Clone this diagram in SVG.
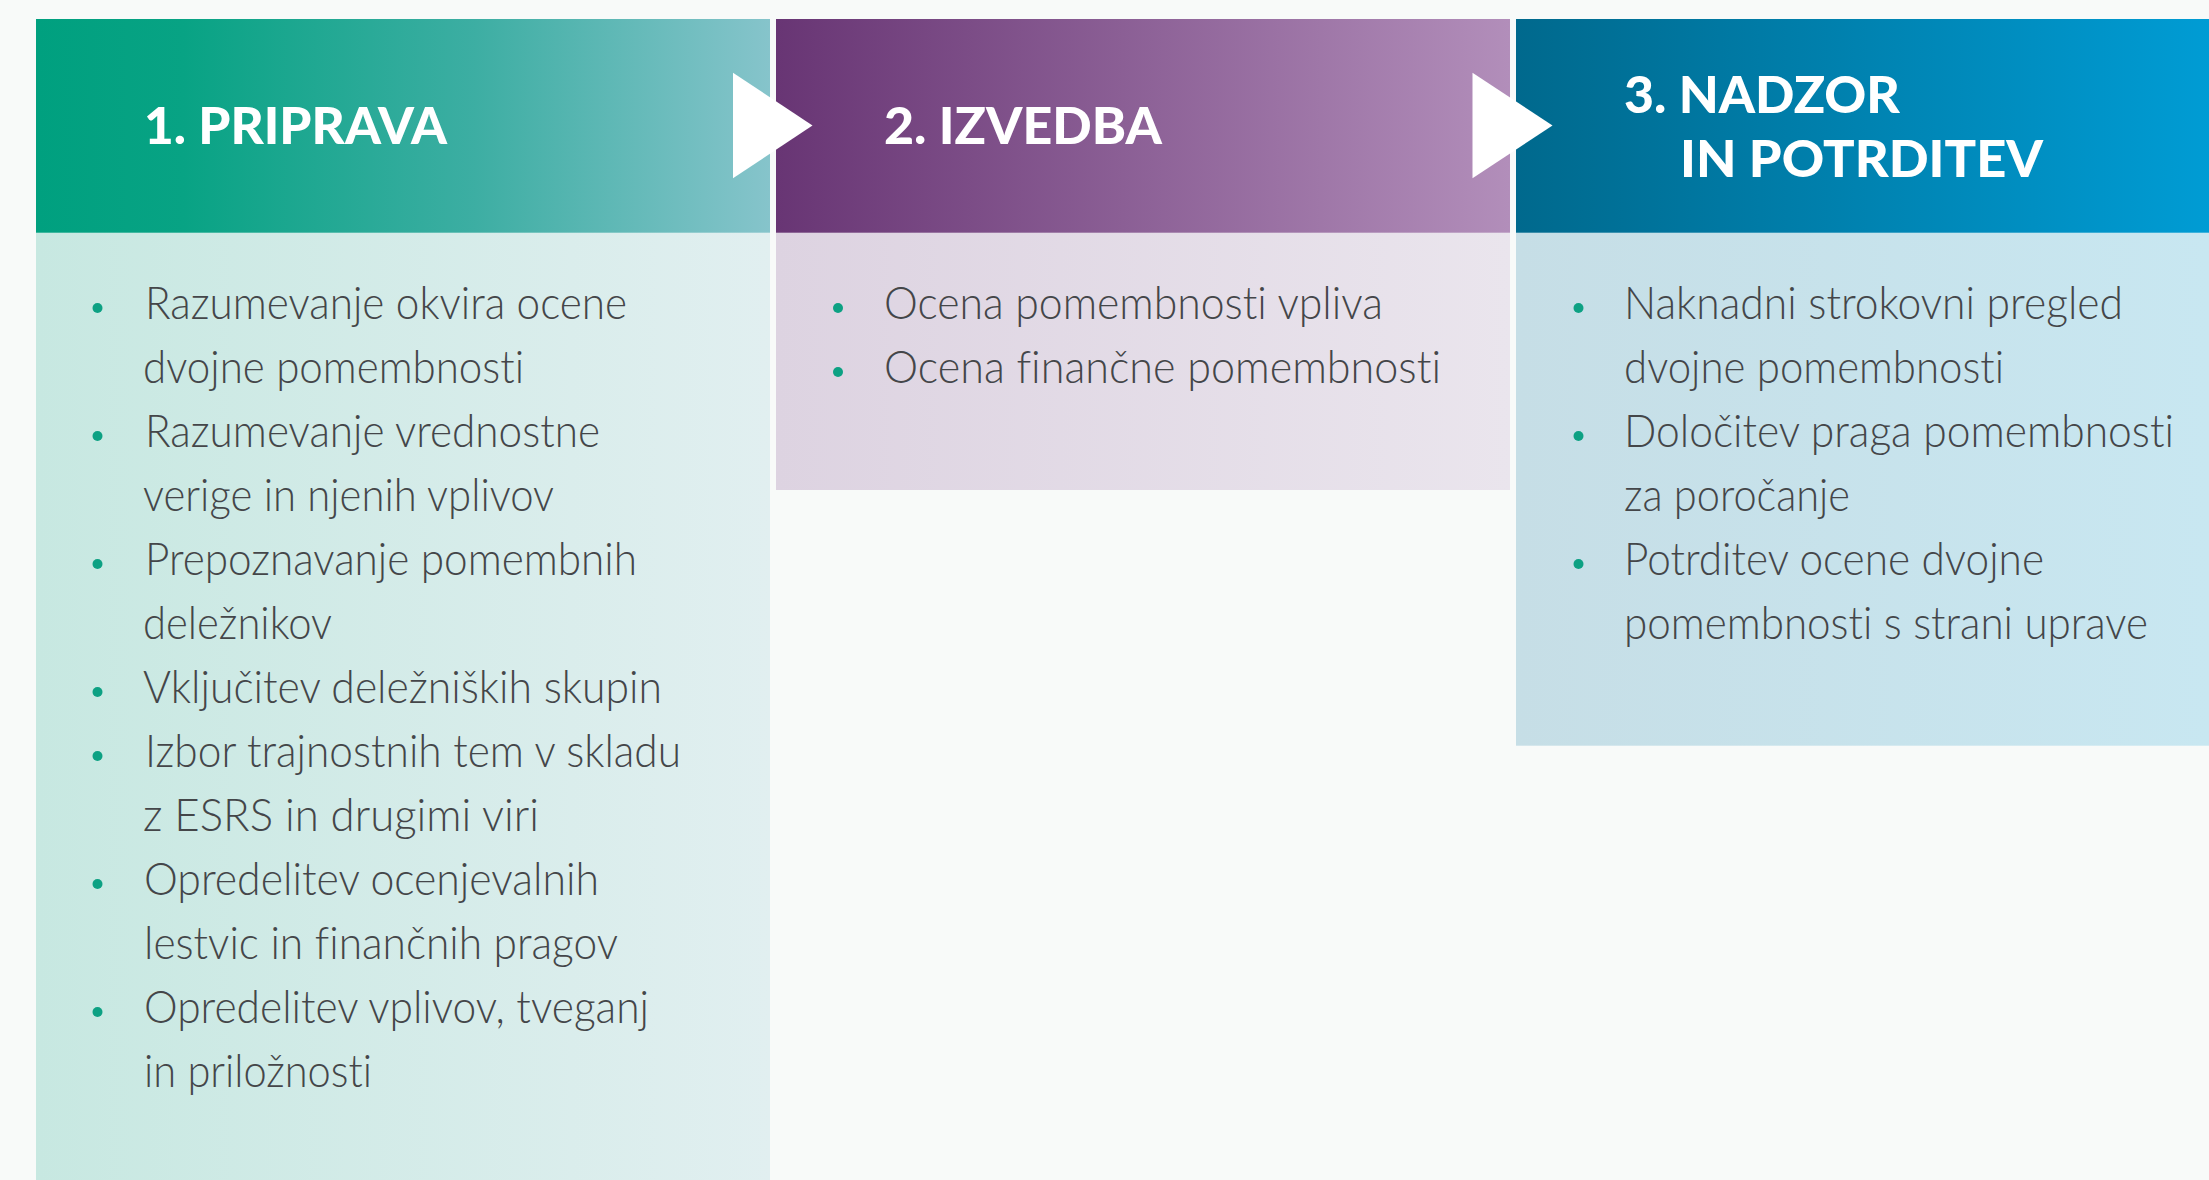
<svg xmlns="http://www.w3.org/2000/svg" width="2209" height="1180" viewBox="0 0 2209 1180">
<defs>
<linearGradient id="h1" x1="0" y1="0" x2="1" y2="0">
<stop offset="0" stop-color="#00a07f"/><stop offset="0.2" stop-color="#08a384"/><stop offset="0.6" stop-color="#3daea3"/><stop offset="1" stop-color="#86c4cb"/>
</linearGradient>
<linearGradient id="h2" x1="0" y1="0" x2="1" y2="0">
<stop offset="0" stop-color="#683574"/><stop offset="1" stop-color="#b28eba"/>
</linearGradient>
<linearGradient id="h3" x1="0" y1="0" x2="1" y2="0">
<stop offset="0" stop-color="#00698d"/><stop offset="1" stop-color="#009cd4"/>
</linearGradient>
<linearGradient id="b1" x1="0" y1="0" x2="1" y2="0">
<stop offset="0" stop-color="#c7e8e1"/><stop offset="1" stop-color="#e1eff0"/>
</linearGradient>
<linearGradient id="b2" x1="0" y1="0" x2="1" y2="0">
<stop offset="0" stop-color="#ddd3e1"/><stop offset="1" stop-color="#eae5ed"/>
</linearGradient>
<linearGradient id="b3" x1="0" y1="0" x2="1" y2="0">
<stop offset="0" stop-color="#c6dee6"/><stop offset="1" stop-color="#c8e7f1"/>
</linearGradient>
</defs>
<style>
.hd{font-family:Lato,"Liberation Sans",sans-serif;font-weight:900;font-size:52px;fill:#ffffff}
.tx{font-family:Lato,"Liberation Sans",sans-serif;font-weight:300;font-size:46px;fill:#444649;font-variant-ligatures:none}
.bl{fill:#0da183}
.arrow{fill:#ffffff}
</style>
<rect x="0" y="0" width="2209" height="1180" fill="#f8faf9"/>

<g id="node-priprava">
<rect x="36" y="19" width="734" height="214" fill="url(#h1)"/>
<rect x="36" y="232.7" width="734" height="948" fill="url(#b1)"/>
<text class="hd" x="144" y="144" textLength="303" lengthAdjust="spacingAndGlyphs">1. PRIPRAVA</text>
<g>
<circle class="bl" cx="97.5" cy="308" r="5"/>
<circle class="bl" cx="97.5" cy="436" r="5"/>
<circle class="bl" cx="97.5" cy="564" r="5"/>
<circle class="bl" cx="97.5" cy="692" r="5"/>
<circle class="bl" cx="97.5" cy="756" r="5"/>
<circle class="bl" cx="97.5" cy="884" r="5"/>
<circle class="bl" cx="97.5" cy="1012" r="5"/>
</g>
<text class="tx" x="145" y="319" textLength="482" lengthAdjust="spacingAndGlyphs">Razumevanje okvira ocene</text>
<text class="tx" x="143" y="383" textLength="381" lengthAdjust="spacingAndGlyphs">dvojne pomembnosti</text>
<text class="tx" x="145" y="447" textLength="455" lengthAdjust="spacingAndGlyphs">Razumevanje vrednostne</text>
<text class="tx" x="143" y="511" textLength="411" lengthAdjust="spacingAndGlyphs">verige in njenih vplivov</text>
<text class="tx" x="145" y="575" textLength="492" lengthAdjust="spacingAndGlyphs">Prepoznavanje pomembnih</text>
<text class="tx" x="143" y="639" textLength="189" lengthAdjust="spacingAndGlyphs">deležnikov</text>
<text class="tx" x="143" y="703" textLength="519" lengthAdjust="spacingAndGlyphs">Vključitev deležniških skupin</text>
<text class="tx" x="145" y="767" textLength="536" lengthAdjust="spacingAndGlyphs">Izbor trajnostnih tem v skladu</text>
<text class="tx" x="143" y="831" textLength="396" lengthAdjust="spacingAndGlyphs">z ESRS in drugimi viri</text>
<text class="tx" x="144" y="895" textLength="455" lengthAdjust="spacingAndGlyphs">Opredelitev ocenjevalnih</text>
<text class="tx" x="144" y="959" textLength="474" lengthAdjust="spacingAndGlyphs">lestvic in finančnih pragov</text>
<text class="tx" x="144" y="1023" textLength="505" lengthAdjust="spacingAndGlyphs">Opredelitev vplivov, tveganj</text>
<text class="tx" x="144" y="1087" textLength="228" lengthAdjust="spacingAndGlyphs">in priložnosti</text>
</g>

<g id="node-izvedba">
<rect x="776" y="19" width="734" height="214" fill="url(#h2)"/>
<rect x="776" y="232.7" width="734" height="257.3" fill="url(#b2)"/>
<text class="hd" x="884" y="144" textLength="278" lengthAdjust="spacingAndGlyphs">2. IZVEDBA</text>
<circle class="bl" cx="838" cy="308" r="5"/>
<circle class="bl" cx="838" cy="372" r="5"/>
<text class="tx" x="884" y="319" textLength="499" lengthAdjust="spacingAndGlyphs">Ocena pomembnosti vpliva</text>
<text class="tx" x="884" y="383" textLength="557" lengthAdjust="spacingAndGlyphs">Ocena finančne pomembnosti</text>
</g>

<g id="node-nadzor">
<rect x="1516" y="19" width="693" height="214" fill="url(#h3)"/>
<rect x="1516" y="232.7" width="693" height="513" fill="url(#b3)"/>
<text class="hd" x="1624" y="113" textLength="276" lengthAdjust="spacingAndGlyphs">3. NADZOR</text>
<text class="hd" x="1680" y="177" textLength="363" lengthAdjust="spacingAndGlyphs">IN POTRDITEV</text>
<circle class="bl" cx="1578.5" cy="308" r="5"/>
<circle class="bl" cx="1578.5" cy="436" r="5"/>
<circle class="bl" cx="1578.5" cy="564" r="5"/>
<text class="tx" x="1624" y="319" textLength="499" lengthAdjust="spacingAndGlyphs">Naknadni strokovni pregled</text>
<text class="tx" x="1624" y="383" textLength="380" lengthAdjust="spacingAndGlyphs">dvojne pomembnosti</text>
<text class="tx" x="1624" y="447" textLength="550" lengthAdjust="spacingAndGlyphs">Določitev praga pomembnosti</text>
<text class="tx" x="1624" y="511" textLength="226" lengthAdjust="spacingAndGlyphs">za poročanje</text>
<text class="tx" x="1624" y="575" textLength="420" lengthAdjust="spacingAndGlyphs">Potrditev ocene dvojne</text>
<text class="tx" x="1624" y="639" textLength="524" lengthAdjust="spacingAndGlyphs">pomembnosti s strani uprave</text>
</g>

<g id="connectors">
<polygon class="arrow" points="733,72.7 812.5,125.5 733,178.3"/>
<polygon class="arrow" points="1472.5,72.7 1552.5,125.5 1472.5,178.3"/>
</g>
</svg>
